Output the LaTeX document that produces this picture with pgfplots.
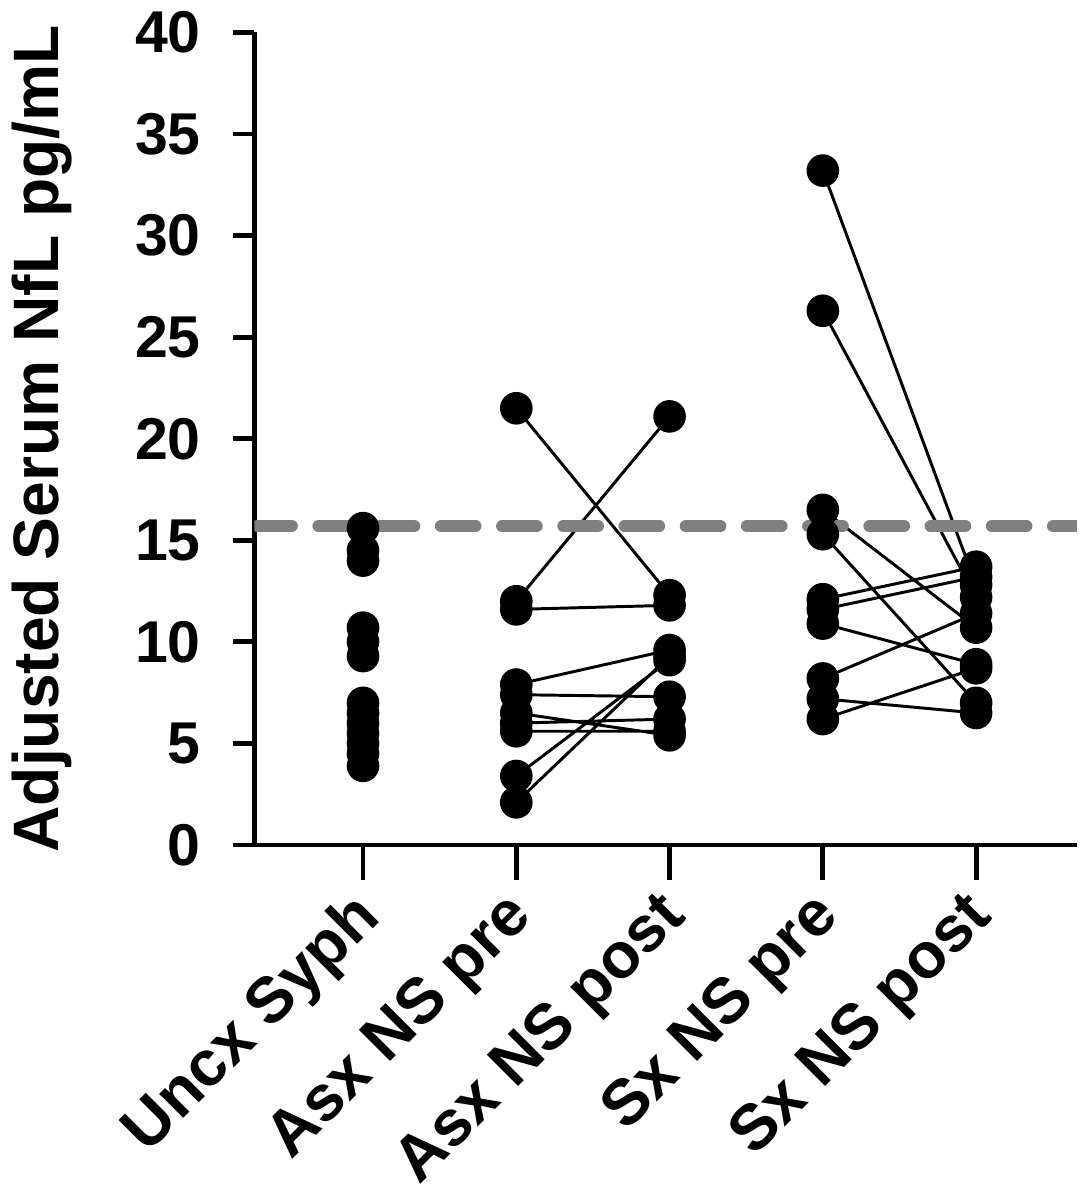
\documentclass[border=0pt]{standalone}
\usepackage{fontspec}
\setmainfont{Liberation Sans}
\usepackage{pgfplots}
\usepackage{pgfplotstable}
\pgfplotsset{compat=1.18}

% untreated group
\pgfplotstableread{
x y
0 15.6
0 14.5
0 14.0
0 10.7
0 10.0
0 9.3
0 7.0
0 6.5
0 6.0
0 5.5
0 5.0
0 4.5
0 3.9
}\uncx

% paired pre/post values, one pair per block
\pgfplotstableread{
x y
1 21.5
2 12.3
1 nan
1 12.0
2 21.1
1 nan
1 11.6
2 11.8
1 nan
1 7.9
2 9.6
1 nan
1 7.4
2 7.3
1 nan
1 6.5
2 5.4
1 nan
1 6.0
2 6.2
1 nan
1 5.6
2 5.6
1 nan
1 3.4
2 9.1
1 nan
1 2.1
2 9.3
1 nan
3 33.2
4 12.8
3 nan
3 26.3
4 12.2
3 nan
3 16.5
4 10.7
3 nan
3 15.3
4 7.0
3 nan
3 12.1
4 13.7
3 nan
3 11.6
4 13.2
3 nan
3 10.9
4 8.9
3 nan
3 8.2
4 11.4
3 nan
3 7.2
4 6.5
3 nan
3 6.2
4 8.7
}\pairs

\definecolor{cutoff}{RGB}{128,128,128}

\begin{document}
\begin{tikzpicture}
\begin{axis}[
  scale only axis,
  width=8.33cm, height=8.23cm,
  xmin=-0.709, xmax=4.657,
  ymin=0, ymax=40,
  axis lines=left,
  axis line style={line width=1.4pt, -},
  xtick={0,1,2,3,4},
  xticklabels={Uncx Syph, Asx NS pre, Asx NS post, Sx NS pre, Sx NS post},
  ytick={0,5,...,40},
  tick align=outside,
  major tick length=0.22cm,
  xtick style={/pgfplots/major tick length=0.35cm},
  tick style={line width=1.4pt, black},
  /pgf/number format/assume math mode=true,
  yticklabel style={font=\fontsize{17}{20}\selectfont\bfseries, xshift=-0.2cm},
  xticklabel style={font=\fontsize{18.5}{21}\selectfont\bfseries, rotate=45, anchor=north east, inner sep=1pt, xshift=-0.2cm},
  ylabel={Adjusted Serum NfL pg/mL},
  ylabel style={font=\fontsize{18.5}{21}\selectfont\bfseries, yshift=0.4cm},
]
  \addplot[black, line width=0.85pt, unbounded coords=jump] table[x=x, y=y] {\pairs};
  \addplot[only marks, mark=*, mark size=4.5pt, black] table[x=x, y=y] {\pairs};
  \addplot[only marks, mark=*, mark size=4.5pt, black] table[x=x, y=y] {\uncx};
  \addplot[cutoff, line width=3.5pt, line cap=round, dash pattern=on 0.35cm off 0.27cm]
    coordinates {(-0.69,15.7) (4.657,15.7)};
\end{axis}
\end{tikzpicture}
\end{document}
